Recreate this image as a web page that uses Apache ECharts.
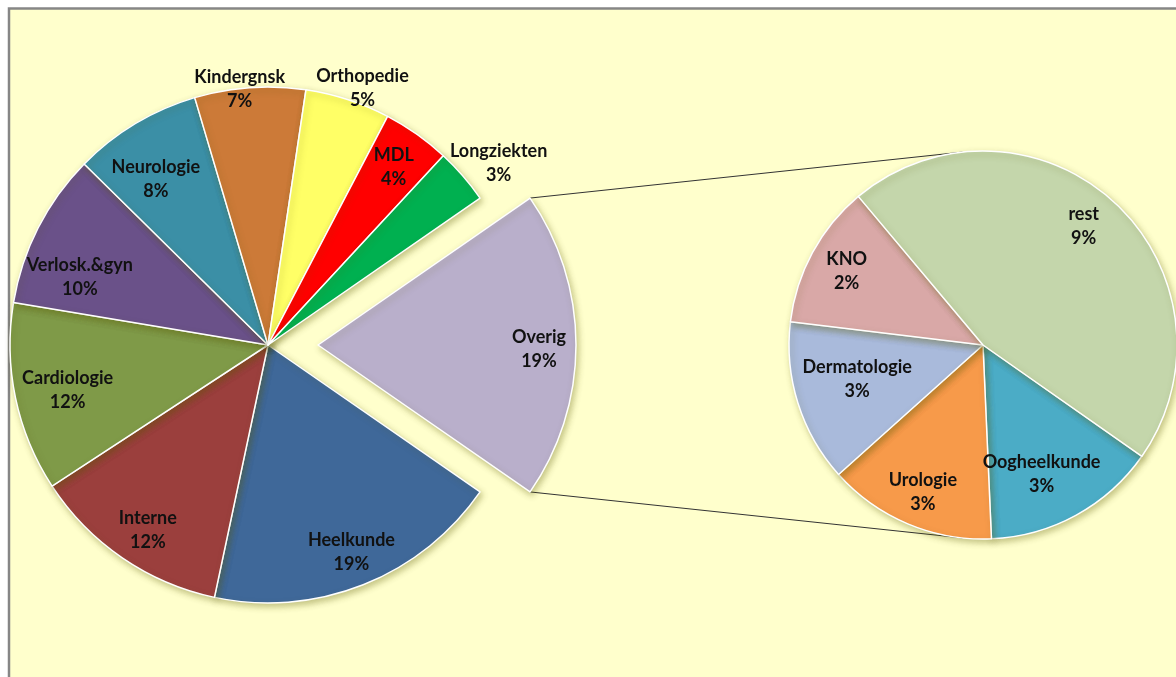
<!DOCTYPE html>
<html>
<head>
<meta charset="utf-8">
<title>Pie of pie</title>
<script src="https://cdn.jsdelivr.net/npm/echarts@6/dist/echarts.min.js"></script>
<style>
    html, body {margin: 0; padding: 0; background: #fff;}
    #main {width: 1176px; height: 677px;}
</style>
</head>
<body>
<div id="main"></div>
<script>
// hoofdtaart (kloksgewijs vanaf Overig)
var mainNames = ['Heelkunde', 'Interne', 'Cardiologie', 'Verlosk.&gyn', 'Neurologie', 'Kindergnsk', 'Orthopedie', 'MDL', 'Longziekten']
var mainValues = [18.6, 12.4, 11.8, 9.7, 8.0, 6.9, 5.3, 4.2, 3.45]
// tweede taart = Overig
var subNames = ['Oogheelkunde', 'Urologie', 'Dermatologie', 'KNO', 'rest']
var subValues = [2.8, 2.7, 2.6, 2.3, 8.8]
var otherName = 'Overig'

var mainColors = {
    'Overig': '#B9AFCB', 'Heelkunde': '#3F6899', 'Interne': '#9B3F3D', 'Cardiologie': '#7F9A48',
    'Verlosk.&gyn': '#6A5189', 'Neurologie': '#3B8FA6', 'Kindergnsk': '#CC7A38', 'Orthopedie': '#FFFF66',
    'MDL': '#FF0000', 'Longziekten': '#00B050'
}
var subColors = {
    'Oogheelkunde': '#4BACC6', 'Urologie': '#F79A4A', 'Dermatologie': '#A9BADB', 'KNO': '#D9A8A7', 'rest': '#C4D6AB'
}
// label verschuivingen (best fit van excel nadoen)
var labelShift = {
    'Kindergnsk': [-13, -38], 'Orthopedie': [27, -50], 'Longziekten': [66, -39],
    'Verlosk.&gyn': [6, 31], 'Neurologie': [0, 21], 'Cardiologie': [13, 0],
    'Heelkunde': [3, 5], 'Interne': [3, 5], 'Overig': [3, 4],
    'Dermatologie': [22, -12], 'Oogheelkunde': [-16, -7], 'rest': [-4, -5], 'Urologie': [0, 4]
}

var otherValue = subValues.reduce(function (a, b) { return a + b }, 0)
var total = mainValues.reduce(function (a, b) { return a + b }, 0) + otherValue

// geometrie
var c1 = [268, 345], r1 = 258, explode = 50
var c2 = [983, 345], r2 = 194
var half = otherValue / total * 180   // halve hoek Overig in graden

function pct(v) {
    return Math.round(v / total * 100) + '%'
}

var mainData = [{name: otherName, value: otherValue, selected: true}]
for (var i = 0; i < mainNames.length; i++) {
    mainData.push({name: mainNames[i], value: mainValues[i]})
}
var subData = []
for (var j = 0; j < subNames.length; j++) {
    subData.push({name: subNames[j], value: subValues[j]})
}

function colored(list, colors) {
    return list.map(function (d) {
        return {name: d.name, value: d.value, selected: d.selected, itemStyle: {color: colors[d.name]}}
    })
}
function labelled(list) {
    return list.map(function (d) {
        var s = labelShift[d.name] || [0, 0]
        return {
            name: d.name, value: d.value, selected: d.selected,
            label: {offset: s},
            select: {label: {offset: s}}
        }
    })
}

var sliceStyle = {
    borderColor: '#fff',
    borderWidth: 1.5,
    shadowBlur: 6,
    shadowOffsetX: 2,
    shadowOffsetY: 3,
    shadowColor: 'rgba(90,90,0,0.35)'
}
var labelStyle = {
    show: true,
    position: 'inside',
    fontFamily: 'Lato',
    fontWeight: 'bold',
    fontSize: 18,
    lineHeight: 24,
    color: '#111',
    formatter: function (p) {
        return p.name + '\n' + pct(p.value)
    }
}

// verbindingslijnen: hoek van Overig naar raaklijn tweede taart
function tangent(p, upper) {
    var dx = p[0] - c2[0], dy = p[1] - c2[1]
    var d = Math.sqrt(dx * dx + dy * dy)
    var base = Math.atan2(dy, dx)
    var a = Math.acos(r2 / d)
    var t = upper ? base + a : base - a
    return [c2[0] + r2 * Math.cos(t), c2[1] + r2 * Math.sin(t)]
}
var h = half * Math.PI / 180
var cornerTop = [c1[0] + explode + r1 * Math.cos(h), c1[1] - r1 * Math.sin(h)]
var cornerBot = [c1[0] + explode + r1 * Math.cos(h), c1[1] + r1 * Math.sin(h)]
var endTop = tangent(cornerTop, true)
var endBot = tangent(cornerBot, false)

var option = {
    backgroundColor: '#fff',
    animation: false,
    graphic: [
        {
            type: 'rect', z: 0, silent: true,
            shape: {x: 9, y: 8.5, width: 1200, height: 700},
            style: {fill: '#FFFFCC', stroke: '#868686', lineWidth: 2.5}
        },
        {
            type: 'line', z: 1, silent: true,
            shape: {x1: cornerTop[0], y1: cornerTop[1], x2: endTop[0], y2: endTop[1]},
            style: {stroke: '#333', lineWidth: 1}
        },
        {
            type: 'line', z: 1, silent: true,
            shape: {x1: cornerBot[0], y1: cornerBot[1], x2: endBot[0], y2: endBot[1]},
            style: {stroke: '#333', lineWidth: 1}
        }
    ],
    series: [
        {
            type: 'pie',
            z: 2,
            silent: true,
            center: c1,
            radius: r1,
            startAngle: half,
            clockwise: true,
            selectedMode: 'single',
            selectedOffset: explode,
            label: {show: false},
            labelLine: {show: false},
            itemStyle: sliceStyle,
            emphasis: {disabled: true},
            data: colored(mainData, mainColors)
        },
        {
            // alleen labels, op ~0.83 r
            type: 'pie',
            z: 3,
            silent: true,
            center: c1,
            radius: 430,
            startAngle: half,
            selectedMode: 'single',
            selectedOffset: explode,
            itemStyle: {color: 'rgba(0,0,0,0)', borderWidth: 0},
            label: labelStyle,
            labelLine: {show: false},
            emphasis: {disabled: true},
            data: labelled(mainData)
        },
        {
            type: 'pie',
            z: 2,
            silent: true,
            center: c2,
            radius: r2,
            startAngle: -35,
            label: {show: false},
            labelLine: {show: false},
            itemStyle: sliceStyle,
            emphasis: {disabled: true},
            data: colored(subData, subColors)
        },
        {
            type: 'pie',
            z: 3,
            silent: true,
            center: c2,
            radius: 304,
            startAngle: -35,
            itemStyle: {color: 'rgba(0,0,0,0)', borderWidth: 0},
            label: labelStyle,
            labelLine: {show: false},
            emphasis: {disabled: true},
            data: labelled(subData)
        }
    ]
};
var myChart = echarts.init(document.getElementById('main'));
myChart.setOption(option);
</script>
</body>
</html>
